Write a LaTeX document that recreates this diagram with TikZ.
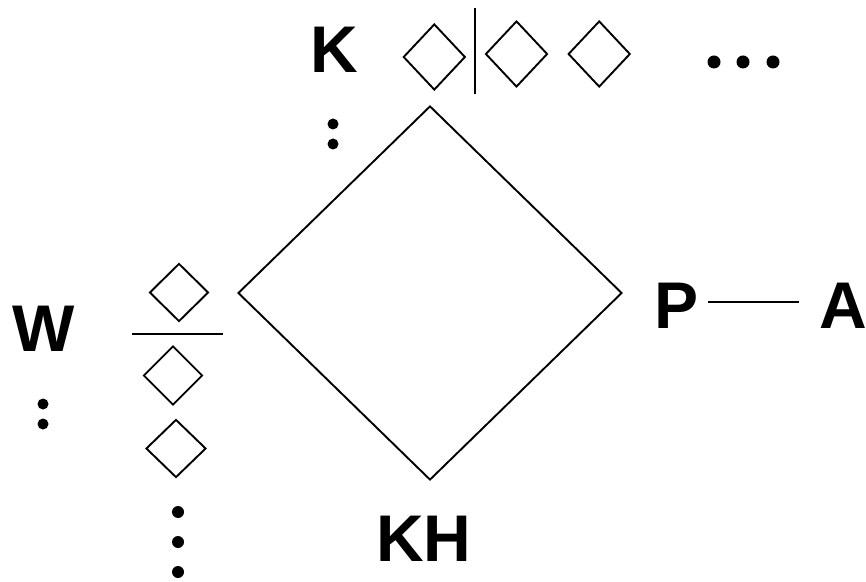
\documentclass[tikz,border=0pt]{standalone}
\usepackage{fontspec}
\setmainfont{Liberation Sans}
\usetikzlibrary{shapes.geometric}
\begin{document}
\begin{tikzpicture}[x=1pt,y=1pt,
  dia/.style={draw,diamond,inner sep=0pt,line width=1.9pt,line join=miter},
  lbl/.style={anchor=base,inner sep=0pt,font=\fontsize{66}{66}\selectfont\bfseries},
  rule/.style={line width=1.9pt},
  dotc/.style={fill=black}]
\useasboundingbox (0,0) rectangle (866,581);
% big diamond
\node[dia,minimum width=384pt,minimum height=374pt] (big) at (430,288) {};
% top row
\node[lbl] (K) at (334,508.3) {K};
\node[dia,minimum width=62pt,minimum height=66pt] (t1) at (434.3,524) {};
\node[dia,minimum width=62pt,minimum height=66pt] (t2) at (516.5,527) {};
\node[dia,minimum width=62pt,minimum height=66pt] (t3) at (599.2,527) {};
\coordinate (vt) at (475,573);
\coordinate (vb) at (475,487);
\draw[rule] (vt) -- (vb);
\fill[dotc] (714,519) circle (6.5) (743,519) circle (6.5) (773,519) circle (6.5);
\fill[dotc] (333,457) circle (5.5) (333,437) circle (5.5);
% left column
\node[lbl] (W) at (44,229.3) {W};
\fill[dotc] (43,177) circle (5.5) (43,157) circle (5.5);
\node[dia,minimum width=59pt,minimum height=58pt] (l1) at (179,288.5) {};
\coordinate (hl) at (132,247);
\coordinate (hr) at (223,247);
\draw[rule] (hl) -- (hr);
\node[dia,minimum width=59pt,minimum height=59pt] (l2) at (173,205.5) {};
\node[dia,minimum width=60pt,minimum height=58pt] (l3) at (176,132.5) {};
\fill[dotc] (178,69) circle (6) (178,39) circle (6) (178,9) circle (6);
% bottom
\node[lbl] (KH) at (424,19.3) {KH};
% right
\node[lbl] (P) at (676.5,252) {P};
\node[lbl] (A) at (843,252) {A};
\coordinate (pa1) at (708,279.3);
\coordinate (pa2) at (799,279.3);
\draw[rule] (pa1) -- (pa2);
\end{tikzpicture}
\end{document}
